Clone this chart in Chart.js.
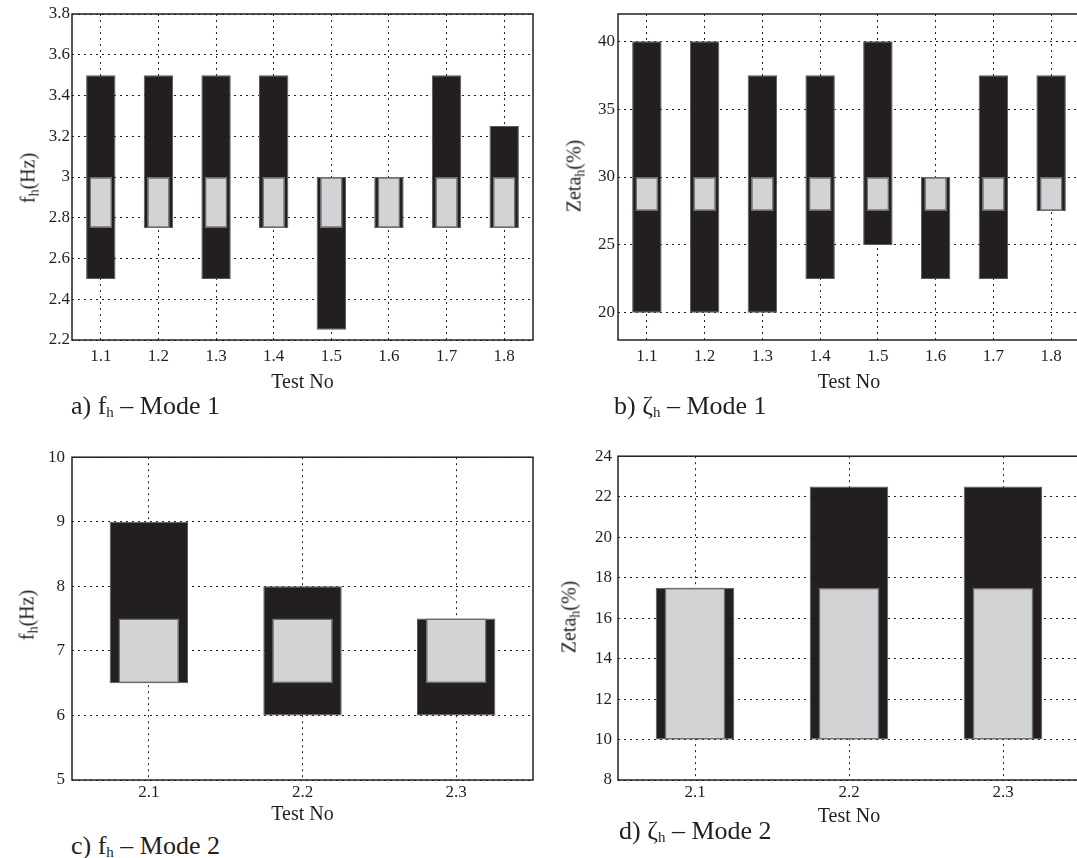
<!DOCTYPE html>
<html>
<head>
<meta charset="utf-8">
<script src="https://cdn.jsdelivr.net/npm/chart.js@4.4.1/dist/chart.umd.min.js"></script>
<style>
  html, body { margin: 0; padding: 0; background: #fff; overflow: hidden; width: 1077px; height: 858px; }
  .panel { position: absolute; }
  .caption { position: absolute; font-family: 'Liberation Serif', serif; font-size: 26px; line-height: 26px; color: #231f20; white-space: nowrap; }
  .ytitle { position: absolute; font-family: 'Liberation Serif', serif; font-size: 20px; line-height: 20px; color: #231f20; white-space: nowrap; transform: translate(-50%, -50%) rotate(-90deg); }
  .sub { font-size: 14px; position: relative; top: 4px; }
  .caption .sub { font-size: 15px; top: 3px; }
</style>
</head>
<body>
<canvas id="chart-f1" class="panel" style="left:0;top:0" width="545" height="400"></canvas>
<canvas id="chart-z1" class="panel" style="left:540px;top:0" width="550" height="400"></canvas>
<canvas id="chart-f2" class="panel" style="left:0;top:440px" width="545" height="390"></canvas>
<canvas id="chart-z2" class="panel" style="left:540px;top:440px" width="550" height="390"></canvas>

<div class="ytitle" style="left:29px;top:178px">f<span class="sub">h</span>(Hz)</div>
<div class="ytitle" style="left:575px;top:176px">Zeta<span class="sub">h</span>(%)</div>
<div class="ytitle" style="left:28px;top:615px">f<span class="sub">h</span>(Hz)</div>
<div class="ytitle" style="left:570px;top:617px">Zeta<span class="sub">h</span>(%)</div>

<div class="caption" style="left:71px;top:393px">a) f<span class="sub">h</span> – Mode 1</div>
<div class="caption" style="left:614px;top:393px">b) ζ<span class="sub">h</span> – Mode 1</div>
<div class="caption" style="left:71px;top:833px">c) f<span class="sub">h</span> – Mode 2</div>
<div class="caption" style="left:619px;top:818px">d) ζ<span class="sub">h</span> – Mode 2</div>

<script>
// test numbers
const testsMode1 = ['1.1', '1.2', '1.3', '1.4', '1.5', '1.6', '1.7', '1.8'];
const testsMode2 = ['2.1', '2.2', '2.3'];

// a) frequency, mode 1: [low, high]
const freqMode1Range = [[2.5, 3.5], [2.75, 3.5], [2.5, 3.5], [2.75, 3.5], [2.25, 3.0], [2.75, 3.0], [2.75, 3.5], [2.75, 3.25]];
const freqMode1Core = [[2.75, 3.0], [2.75, 3.0], [2.75, 3.0], [2.75, 3.0], [2.75, 3.0], [2.75, 3.0], [2.75, 3.0], [2.75, 3.0]];
const freqMode1Ticks = [2.2, 2.4, 2.6, 2.8, 3, 3.2, 3.4, 3.6, 3.8];

// b) damping, mode 1
const dampMode1Range = [[20, 40], [20, 40], [20, 37.5], [22.5, 37.5], [25, 40], [22.5, 30], [22.5, 37.5], [27.5, 37.5]];
const dampMode1Core = [[27.5, 30], [27.5, 30], [27.5, 30], [27.5, 30], [27.5, 30], [27.5, 30], [27.5, 30], [27.5, 30]];
const dampMode1Ticks = [20, 25, 30, 35, 40];

// c) frequency, mode 2
const freqMode2Range = [[6.5, 9], [6, 8], [6, 7.5]];
const freqMode2Core = [[6.5, 7.5], [6.5, 7.5], [6.5, 7.5]];
const freqMode2Ticks = [5, 6, 7, 8, 9, 10];

// d) damping, mode 2
const dampMode2Range = [[10, 17.5], [10, 22.5], [10, 22.5]];
const dampMode2Core = [[10, 17.5], [10, 17.5], [10, 17.5]];
const dampMode2Ticks = [8, 10, 12, 14, 16, 18, 20, 22, 24];

const INK = '#231f20';
const SERIF = "'Liberation Serif', 'Times New Roman', serif";

const frameBox = {
  id: 'frameBox',
  afterDatasetsDraw(chart) {
    const { ctx, chartArea } = chart;
    ctx.save();
    ctx.strokeStyle = INK;
    ctx.lineWidth = 1.5;
    ctx.strokeRect(chartArea.left, chartArea.top, chartArea.right - chartArea.left, chartArea.bottom - chartArea.top);
    ctx.restore();
  }
};

function makePanel(canvasId, { labels, range, core, ticks, min, max, yWidth, xHeight, rightPad, xTickPad, yTickPad, titlePad }) {
  const canvas = document.getElementById(canvasId);

  return new Chart(canvas, {
    type: 'bar',
    data: {
      labels,
      datasets: [
        {
          data: core,
          backgroundColor: '#d1d3d4',
          borderColor: '#6d6e71',
          borderWidth: 1.5,
          borderSkipped: false,
          grouped: false,
          categoryPercentage: 1,
          barPercentage: 0.395
        },
        {
          data: range,
          backgroundColor: INK,
          borderColor: '#5a5a5c',
          borderWidth: 1,
          borderSkipped: false,
          grouped: false,
          categoryPercentage: 1,
          barPercentage: 0.51
        }
      ]
    },
    options: {
      responsive: false,
      animation: false,
      devicePixelRatio: 1,
      layout: { padding: { left: 0, top: 14, right: rightPad, bottom: 0 } },
      plugins: {
        legend: { display: false },
        tooltip: { enabled: false }
      },
      scales: {
        x: {
          offset: true,
          grid: { offset: false, color: INK, lineWidth: 1, drawTicks: false },
          border: { display: false, dash: [2, 4] },
          ticks: { color: INK, padding: xTickPad, font: { family: SERIF, size: 17 } },
          title: {
            display: true,
            text: 'Test No',
            color: INK,
            font: { family: SERIF, size: 20 },
            padding: { top: 0, bottom: titlePad }
          },
          afterFit(axis) {
            axis.height = xHeight;
          }
        },
        y: {
          min,
          max,
          grid: { color: INK, lineWidth: 1, drawTicks: false },
          border: { display: false, dash: [2, 4] },
          ticks: {
            color: INK,
            padding: yTickPad,
            font: { family: SERIF, size: 17 },
            callback(value) {
              return String(value);
            }
          },
          afterBuildTicks(axis) {
            axis.ticks = ticks.map((value) => ({ value }));
          },
          afterFit(axis) {
            axis.width = yWidth;
          }
        }
      }
    },
    plugins: [frameBox]
  });
}

makePanel('chart-f1', {
  labels: testsMode1, range: freqMode1Range, core: freqMode1Core, ticks: freqMode1Ticks,
  min: 2.2, max: 3.8, yWidth: 72, xHeight: 60, rightPad: 12, xTickPad: 6, yTickPad: 2, titlePad: 5
});

makePanel('chart-z1', {
  labels: testsMode1, range: dampMode1Range, core: dampMode1Core, ticks: dampMode1Ticks,
  min: 18, max: 42, yWidth: 78, xHeight: 60, rightPad: 10, xTickPad: 6, yTickPad: 3, titlePad: 5
});

makePanel('chart-f2', {
  labels: testsMode2, range: freqMode2Range, core: freqMode2Core, ticks: freqMode2Ticks,
  min: 5, max: 10, yWidth: 72, xHeight: 50, rightPad: 12, xTickPad: 2, yTickPad: 7, titlePad: 3
});

makePanel('chart-z2', {
  labels: testsMode2, range: dampMode2Range, core: dampMode2Core, ticks: dampMode2Ticks,
  min: 8, max: 24, yWidth: 78, xHeight: 50, rightPad: 10, xTickPad: 2, yTickPad: 6, titlePad: 1
});
</script>
</body>
</html>
